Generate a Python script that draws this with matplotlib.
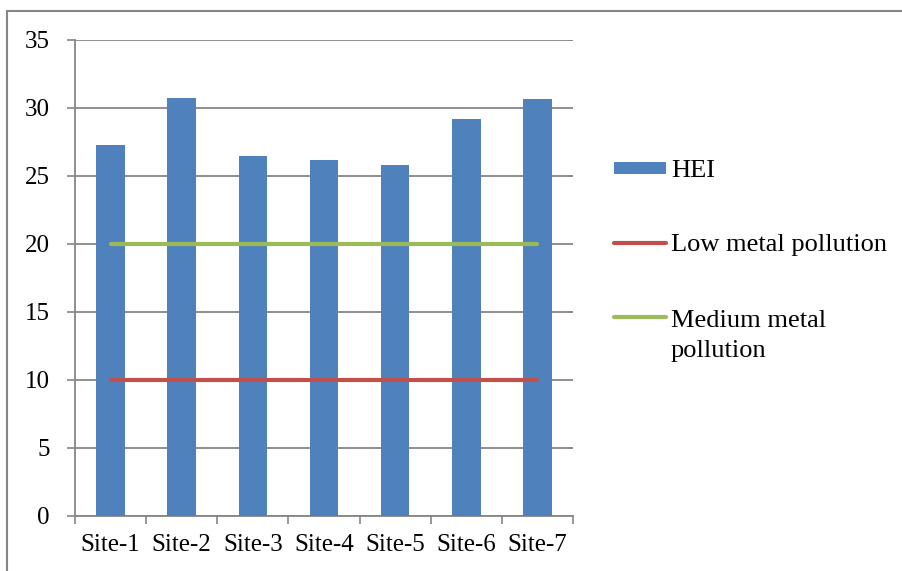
import numpy as np
from matplotlib import pyplot as plt
from matplotlib.patches import Rectangle
from matplotlib.lines import Line2D

sites = ['Site-1', 'Site-2', 'Site-3', 'Site-4', 'Site-5', 'Site-6', 'Site-7']
hei = [27.3, 30.7, 26.45, 26.2, 25.8, 29.2, 30.65]
low_level = [10] * 7
medium_level = [20] * 7

bar_color = '#4F81BD'
low_color = '#C0504D'
med_color = '#9BBB59'
grey = '#868686'

plt.rcParams['font.family'] = ['Liberation Serif', 'DejaVu Serif']

W, H = 903, 571
fig = plt.figure(figsize=(W / 100, H / 100), dpi=100)
ax = fig.add_axes([75 / W, 1 - 516 / H, 498 / W, 476 / H])

def fx(px):
    return px / W

def fy(py):
    return 1 - py / H

# outer frame (only top/left visible in the original crop)
fig.patches.append(Rectangle((fx(7), -0.1), 1.1, fy(11) + 0.1, transform=fig.transFigure,
                             fill=False, edgecolor=grey, linewidth=1.5))

x = np.arange(len(sites))
ax.bar(x, hei, width=0.4, color=bar_color, zorder=3)
ax.plot(x, low_level, color=low_color, linewidth=3, zorder=4, solid_capstyle='round')
ax.plot(x, medium_level, color=med_color, linewidth=3, zorder=4, solid_capstyle='round')

ax.set_xlim(-0.5, 6.5)
ax.set_ylim(0, 35)
ax.set_yticks(np.arange(0, 36, 5))
ax.set_xticks(x)
ax.set_xticklabels(sites)
ax.set_xticks(np.arange(-0.5, 7, 1), minor=True)
ax.tick_params(axis='x', which='major', length=0, labelsize=18, pad=13)
ax.tick_params(axis='x', which='minor', length=6, width=1.2, color=grey, direction='out')
ax.tick_params(axis='y', length=6, width=1.2, color=grey, labelsize=18, pad=12)
ax.grid(axis='y', color=grey, linewidth=1.3, zorder=0)
ax.set_axisbelow(True)
for s in ['top', 'right']:
    ax.spines[s].set_visible(False)
for s in ['left', 'bottom']:
    ax.spines[s].set_color(grey)
    ax.spines[s].set_linewidth(1.3)

# legend drawn by hand to match the original layout
fig.patches.append(Rectangle((fx(614), fy(174)), fx(666) - fx(614), fy(162) - fy(174),
                             transform=fig.transFigure, facecolor=bar_color, edgecolor='none'))
for yy, c in [(243, low_color), (317, med_color)]:
    fig.add_artist(Line2D([fx(614), fx(666)], [fy(yy), fy(yy)], transform=fig.transFigure,
                          color=c, linewidth=3, solid_capstyle='round'))
legend_text = [('HEI', 177), ('Low metal pollution', 251), ('Medium metal', 327), ('pollution', 357)]
for t, yb in legend_text:
    fig.text(fx(671), fy(yb), t, fontsize=19, va='baseline', ha='left')

fig.savefig('out.png', dpi=100)
